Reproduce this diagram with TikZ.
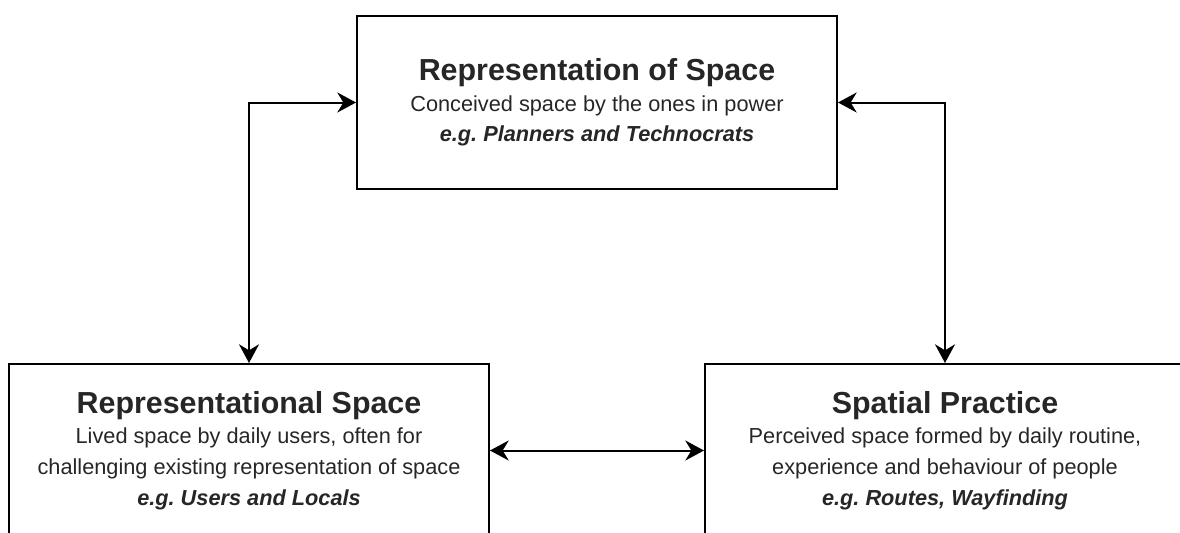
\documentclass[tikz,border=0pt]{standalone}
\usepackage{fontspec}
\setmainfont{Liberation Sans}
\usetikzlibrary{arrows.meta}

\newcommand\spacehead[1]{{\fontsize{22.8}{23}\selectfont\bfseries #1}}
\newcommand\spaceeg[1]{{\bfseries\itshape e.g.\ #1}}

\begin{document}
\begin{tikzpicture}[x=0.75pt, y=-0.75pt, line width=1.5pt,
		spacebox/.style={draw, line width=1.5pt, minimum width=360pt, minimum height=129.75pt,
			align=center, text=black!85, font=\fontsize{16.3}{23}\selectfont},
		link/.style={<->, >={Stealth[length=14pt, width=15pt, inset=4.5pt]}}]
		\useasboundingbox (0,0) rectangle (1180,532);
		\clip (0,0) rectangle (1180,532);
		
		% the three spaces
		\node[spacebox] (conceived) at (597,102.5) {\spacehead{Representation of Space}\\
			Conceived space by the ones in power\\
			\spaceeg{Planners and Technocrats}};
		\node[spacebox] (lived) at (249,450.5) {\spacehead{Representational Space}\\
			Lived space by daily users, often for\\
			challenging existing representation of space\\
			\spaceeg{Users and Locals}};
		\node[spacebox] (perceived) at (945,450.5) {\spacehead{Spatial Practice}\\
			Perceived space formed by daily routine,\\
			experience and behaviour of people\\
			\spaceeg{Routes, Wayfinding}};
		
		% links between them
		\draw[link] (lived.north) |- (conceived.west);
		\draw[link] (conceived.east) -| (perceived.north);
		\draw[link] (lived.east) -- (perceived.west);
\end{tikzpicture}
\end{document}
